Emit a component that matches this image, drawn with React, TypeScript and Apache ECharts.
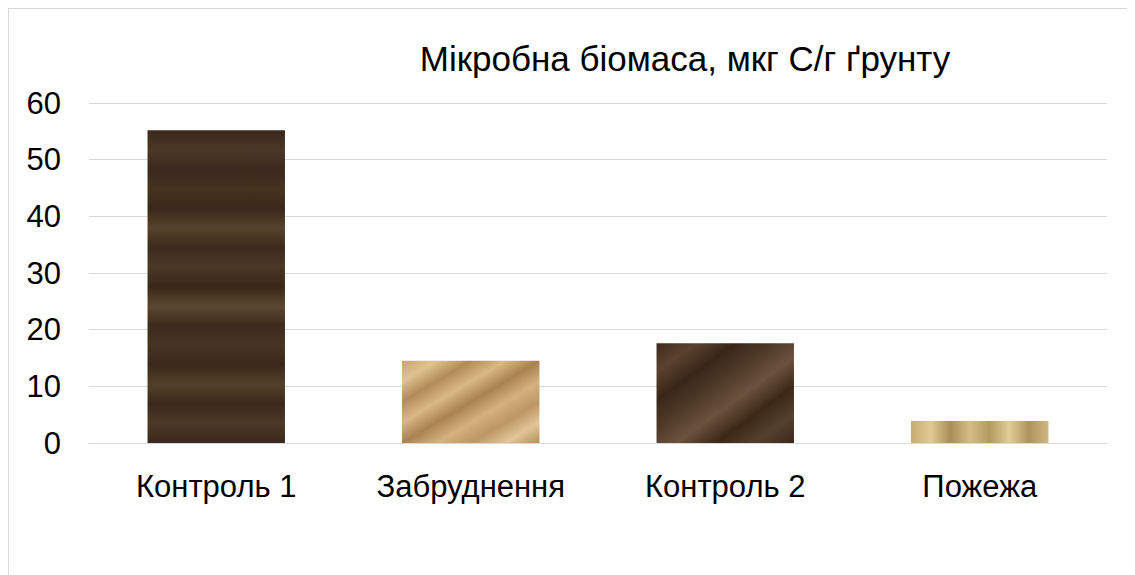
import React, { useEffect, useRef } from "react";
import * as echarts from "echarts";

const categories = ["Контроль 1", "Забруднення", "Контроль 2", "Пожежа"];
const values = [55.2, 14.5, 17.6, 3.9];
const titleText = "Мікробна біомаса, мкг С/г ґрунту";

const stops = (cols: string[]) =>
  cols.map((c, i) => ({ offset: i / (cols.length - 1), color: c }));

const woodFill = new echarts.graphic.LinearGradient(0, 0, 0, 1, stops([
  "#3a291c", "#4a3726", "#3b2a1d", "#45331f", "#3a291b", "#56432c", "#3c2b1d",
  "#4a3825", "#392819", "#5b4730", "#3d2c1e", "#463422", "#3a291b", "#514029",
  "#3b2a1c", "#4b3826", "#3a291c",
]));
const paperFill = new echarts.graphic.LinearGradient(0, 0, 1, 1, stops([
  "#c9a26c", "#e0c292", "#b28b58", "#d9b886", "#a9824f", "#d4b17d", "#bd9764",
  "#e2c597", "#b48d5a",
]));
const marbleFill = new echarts.graphic.LinearGradient(0, 0, 1, 1, stops([
  "#3e2a1b", "#5a4230", "#3a2617", "#4f3a29", "#6a523d", "#3d2818", "#54402e",
  "#3b2819",
]));
const burlapFill = new echarts.graphic.LinearGradient(0, 0, 1, 0, stops([
  "#c6ab71", "#e0ca94", "#a98f57", "#d4bd86", "#b39a60", "#e2cd98", "#ae945b",
  "#d0b881",
]));
const fills = [woodFill, paperFill, marbleFill, burlapFill];

const FONT = "Liberation Sans, Arial, sans-serif";

export default function App() {
  const ref = useRef<HTMLDivElement>(null);
  useEffect(() => {
    if (!ref.current) return;
    const chart = echarts.init(ref.current, undefined, { renderer: "svg" });
    chart.setOption({
      animation: false,
      title: {
        text: titleText,
        left: 671,
        top: 27,
        textAlign: "center",
        textStyle: {
          fontFamily: FONT,
          fontSize: 35,
          fontWeight: "normal",
          color: "#000",
        },
      },
      grid: { left: 80, right: 28, top: 94, bottom: 132, containLabel: false },
      xAxis: {
        type: "category",
        data: categories,
        axisLine: { show: true, lineStyle: { color: "#d9d9d9", width: 1 } },
        axisTick: { show: false },
        axisLabel: {
          fontFamily: FONT,
          fontSize: 31,
          color: "#000",
          margin: 28,
        },
      },
      yAxis: {
        type: "value",
        min: 0,
        max: 60,
        interval: 10,
        axisLine: { show: false },
        axisTick: { show: false },
        splitLine: { lineStyle: { color: "#d9d9d9", width: 1 } },
        axisLabel: {
          fontFamily: FONT,
          fontSize: 31,
          color: "#000",
          margin: 28,
        },
      },
      series: [
        {
          type: "bar",
          barWidth: "54%",
          data: values.map((v, i) => ({ value: v, itemStyle: { color: fills[i] } })),
        },
      ],
    });
    return () => chart.dispose();
  }, []);
  return (
    <div
      style={{
        width: 1127,
        height: 567,
        boxSizing: "border-box",
        borderLeft: "1px solid #d9d9d9",
        borderTop: "1px solid #d9d9d9",
        overflow: "hidden",
      }}
    >
      <div ref={ref} style={{ width: 1126, height: 566 }} />
    </div>
  );
}
